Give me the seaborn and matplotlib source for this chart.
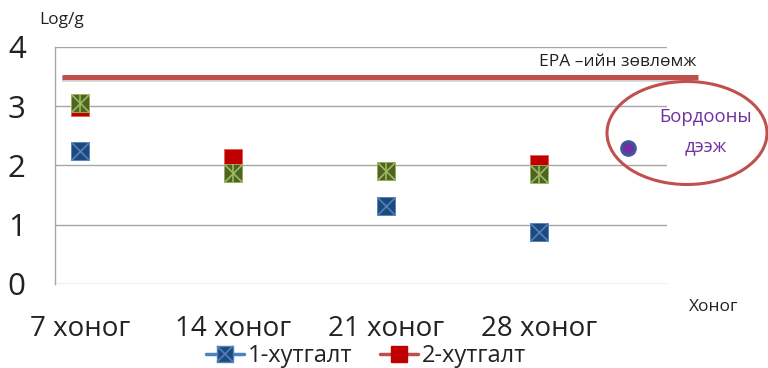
import matplotlib
matplotlib.use("Agg")
import matplotlib.pyplot as plt
import seaborn as sns
import pandas as pd
from matplotlib.lines import Line2D
from matplotlib.patches import Ellipse

sns.set_theme(style="white")
plt.rcParams['font.family'] = ['Open Sans', 'DejaVu Sans']

categories = ["7 хоног", "14 хоног", "21 хоног", "28 хоног"]
series1 = [2.25, 1.87, 1.31, 0.88]   # 1-хутгалт
series2 = [2.99, 2.12, 1.90, 2.03]   # 2-хутгалт
series3 = [3.06, 1.87, 1.90, 1.86]   # 3-хутгалт
epa_limit = 3.5
sample_x = 3.58
sample_y = 2.30
yticks = [0, 1, 2, 3, 4]

xpos = list(range(len(categories)))
df = pd.DataFrame({"x": xpos * 3,
                   "y": series1 + series2 + series3,
                   "s": ["1"] * 4 + ["2"] * 4 + ["3"] * 4})

fig = plt.figure(figsize=(7.68, 3.68), dpi=100)
ax = fig.add_axes([0.0716, 0.2283, 0.797, 0.644])

gridc = "#A6A6A6"
for v in yticks:
    ax.axhline(v, color=gridc, lw=1.0, zorder=0)

ms = 170
# series 1: blue square with X
d1 = df[df.s == "1"]
sns.scatterplot(data=d1, x="x", y="y", marker="s", s=ms, color="#1F497D",
                edgecolor="#4F81BD", linewidth=0.6, ax=ax, zorder=3, legend=False)
sns.scatterplot(data=d1, x="x", y="y", marker="x", s=ms * 0.95, color="#4F81BD",
                linewidth=1.2, ax=ax, zorder=3.1, legend=False)
# series 2: red square
d2 = df[df.s == "2"]
sns.scatterplot(data=d2, x="x", y="y", marker="s", s=ms, color="#C00000",
                edgecolor="#E06060", linewidth=0.6, ax=ax, zorder=4, legend=False)
# series 3: green square with asterisk
d3 = df[df.s == "3"]
sns.scatterplot(data=d3, x="x", y="y", marker="s", s=ms, color="#4F6228",
                edgecolor="#9BBB59", linewidth=0.6, ax=ax, zorder=5, legend=False)
sns.scatterplot(data=d3, x="x", y="y", marker="x", s=ms * 0.95, color="#9BBB59",
                linewidth=1.2, ax=ax, zorder=5.1, legend=False)
sns.scatterplot(data=d3, x="x", y="y", marker="|", s=ms * 0.95, color="#9BBB59",
                linewidth=1.2, ax=ax, zorder=5.1, legend=False)

# EPA line with shadow
ax.plot([-0.118, 4.04], [epa_limit - 0.035, epa_limit - 0.035], color="#B0B0B0",
        lw=4, alpha=0.6, clip_on=False, zorder=1, solid_capstyle="butt")
ax.plot([-0.118, 4.04], [epa_limit, epa_limit], color="#C0504D", lw=3.6,
        clip_on=False, zorder=2, solid_capstyle="butt")

# sample point
ax.plot([sample_x], [sample_y], marker="o", markersize=10, color="#7030A0",
        markeredgecolor="#3B5B9A", markeredgewidth=2, clip_on=False, zorder=6)

ax.set_xlim(-0.163, 3.837)
ax.set_ylim(0, 4)
ax.set_xticks(xpos)
ax.set_xticklabels(categories, fontsize=20, color="#222222")
ax.set_yticks(yticks)
ax.set_yticklabels([str(v) for v in yticks], fontsize=22.5, color="#222222")
ax.tick_params(axis="x", length=0, pad=22)
ax.tick_params(axis="y", length=0, pad=21)
ax.set_xlabel("")
ax.set_ylabel("")
for k in ["right", "top", "bottom"]:
    ax.spines[k].set_visible(False)
ax.spines["left"].set_color(gridc)
ax.spines["left"].set_linewidth(1.0)

fig.text(62 / 768, 1 - 20 / 368, "Log/g", fontsize=12.5, color="#222222",
         ha="center", va="center")
fig.text(714 / 768, 1 - 307 / 368, "Хоног", fontsize=12.5, color="#222222",
         ha="center", va="center")
fig.text(618 / 768, 1 - 62 / 368, "EPA –ийн зөвлөмж", fontsize=12.5,
         color="#222222", ha="center", va="center")
fig.text(706 / 768, 1 - 117 / 368, "Бордооны", fontsize=13.3, color="#7030A0",
         ha="center", va="center")
fig.text(706 / 768, 1 - 146 / 368, "дээж", fontsize=13.3, color="#7030A0",
         ha="center", va="center")

ell = Ellipse((687 / 768, 1 - 133 / 368), 160 / 768, 103 / 368,
              transform=fig.transFigure, fill=False, edgecolor="#C0504D", lw=2.2)
fig.add_artist(ell)

h1 = (Line2D([], [], color="#4F81BD", lw=2.5),
      Line2D([], [], marker="s", ls="", markersize=12, color="#1F497D",
             markeredgecolor="#4F81BD"),
      Line2D([], [], marker="x", ls="", markersize=11, color="#4F81BD", mew=1.2))
h2 = (Line2D([], [], color="#C0504D", lw=2.5),
      Line2D([], [], marker="s", ls="", markersize=12, color="#C00000",
             markeredgecolor="#C00000"))
fig.legend([h1, h2], ["1-хутгалт", "2-хутгалт"], loc="center",
           bbox_to_anchor=(366 / 768, 1 - 356 / 368), ncol=2, frameon=False,
           fontsize=17, handlelength=1.6, handletextpad=0.15, columnspacing=1.2,
           borderpad=0, labelcolor="#222222")

fig.savefig("out.png", dpi=100)
